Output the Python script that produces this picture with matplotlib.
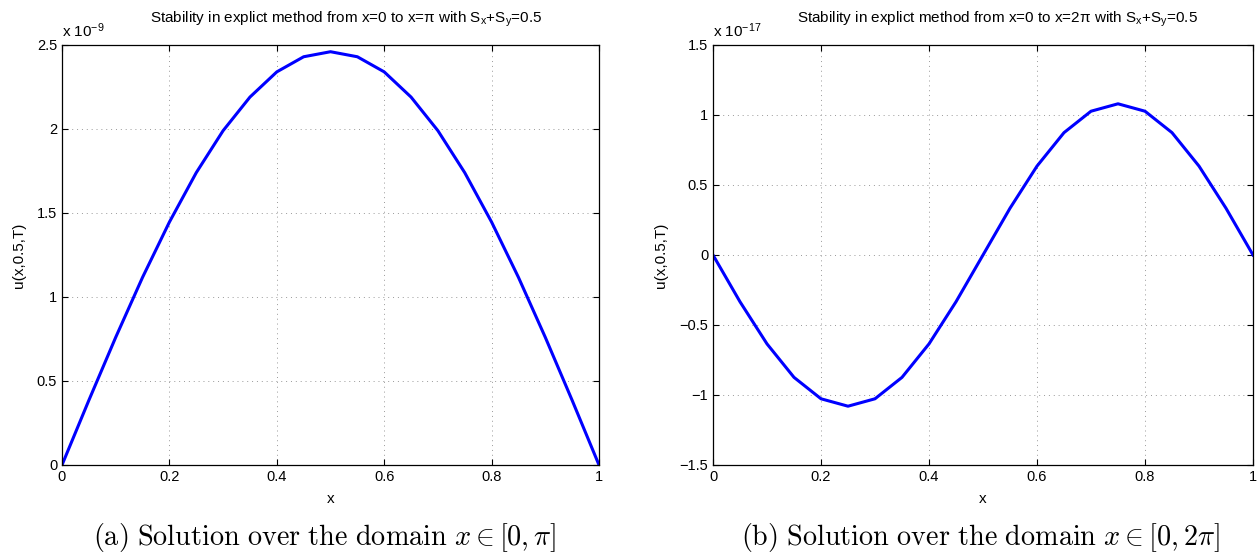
import matplotlib
matplotlib.use("Agg")
import matplotlib.pyplot as plt
from matplotlib.ticker import FuncFormatter

plt.rcParams['font.family'] = ['Liberation Sans', 'DejaVu Sans']
plt.rcParams['mathtext.fontset'] = 'custom'
plt.rcParams['mathtext.rm'] = 'Liberation Sans'
plt.rcParams['mathtext.it'] = 'Liberation Sans'

x_vals = [0.0, 0.05, 0.1, 0.15, 0.2, 0.25, 0.3, 0.35, 0.4, 0.45, 0.5,
          0.55, 0.6, 0.65, 0.7, 0.75, 0.8, 0.85, 0.9, 0.95, 1.0]
u_left = [0, 0.385, 0.76, 1.117, 1.446, 1.74, 1.99, 2.19, 2.34, 2.43, 2.46,
          2.43, 2.34, 2.19, 1.99, 1.74, 1.446, 1.117, 0.76, 0.385, 0]
u_right = [0, -0.334, -0.635, -0.874, -1.027, -1.08, -1.027, -0.874, -0.635, -0.334, 0,
           0.334, 0.635, 0.874, 1.027, 1.08, 1.027, 0.874, 0.635, 0.334, 0]
scale_left = 1e-9
scale_right = 1e-17
x_ticks = [0, 0.2, 0.4, 0.6, 0.8, 1]
y_ticks_left = [0, 0.5, 1, 1.5, 2, 2.5]
y_ticks_right = [-1.5, -1, -0.5, 0, 0.5, 1, 1.5]
titles = ["Stability in explict method from x=0 to x=\u03c0 with S$_{\\mathrm{x}}$+S$_{\\mathrm{y}}$=0.5",
          "Stability in explict method from x=0 to x=2\u03c0 with S$_{\\mathrm{x}}$+S$_{\\mathrm{y}}$=0.5"]
captions = [r"$\mathrm{(a)\ Solution\ over\ the\ domain}\ x \in [0,\pi]$",
            r"$\mathrm{(b)\ Solution\ over\ the\ domain}\ x \in [0,2\pi]$"]

fig = plt.figure(figsize=(12.57, 5.57), dpi=100)
W, H = 1257, 557
ax1 = fig.add_axes([62/W, 1-465/H, (599-62)/W, (465-45)/H])
ax2 = fig.add_axes([713/W, 1-465/H, (1253-713)/W, (465-45)/H])

def fmt(v, p):
    s = "%g" % round(v, 6)
    return s.replace("-", "\u2212")

specs = [
    (ax1, [v*scale_left for v in u_left], scale_left, y_ticks_left, "-9", titles[0], captions[0], 325/W, 346/W),
    (ax2, [v*scale_right for v in u_right], scale_right, y_ticks_right, "-17", titles[1], captions[1], 980/W, 997/W),
]
for ax, ys, sc, yt, exp, title, cap, cx, tx in specs:
    ax.plot(x_vals, ys, color='#0000ff', lw=2.2)
    ax.set_xlim(0, 1)
    ax.set_ylim(yt[0]*sc, yt[-1]*sc)
    ax.set_xticks(x_ticks)
    ax.set_yticks([t*sc for t in yt])
    ax.xaxis.set_major_formatter(FuncFormatter(lambda v, p: "%g" % round(v, 6)))
    ax.yaxis.set_major_formatter(FuncFormatter(lambda v, p, sc=sc: fmt(v/sc, p)))
    ax.yaxis.offsetText.set_visible(False)
    ax.xaxis.offsetText.set_visible(False)
    ax.tick_params(direction='in', length=4, labelsize=10.5, top=True, right=True, width=0.8)
    ax.grid(True, linestyle=(0, (1, 4)), color='#999999', lw=0.7)
    for s in ax.spines.values():
        s.set_linewidth(0.9)
    ax.set_xlabel("x", fontsize=11, labelpad=6)
    ax.set_ylabel("u(x,0.5,T)", fontsize=11, labelpad=8)
    ax.text(0, 1 + 5/420, "x 10$^{\\mathrm{" + exp.replace("-", "\u2212") + "}}$", transform=ax.transAxes,
            fontsize=11, ha='left', va='bottom')
    fig.text(tx, 1-29/H, title, fontsize=11, ha='center', va='bottom')
    fig.text(cx, 1-545/H, cap, fontsize=20.3, ha='center', va='baseline', math_fontfamily='cm')

fig.savefig("out.png", dpi=100)
